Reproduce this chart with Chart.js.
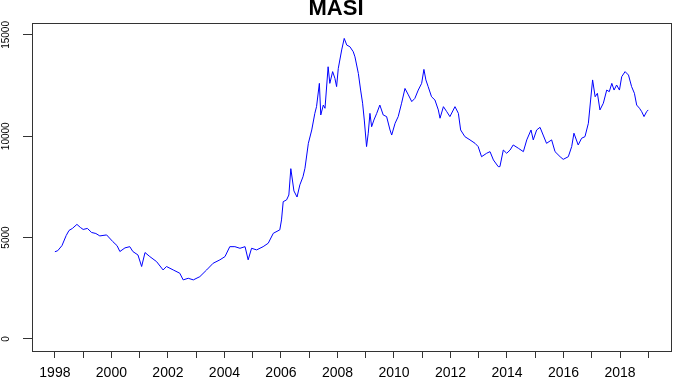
<!DOCTYPE html>
<html>
<head>
<meta charset="utf-8">
<script src="https://cdn.jsdelivr.net/npm/chart.js@4"></script>
<style>
  html, body { margin: 0; padding: 0; background: #fff; }
  #wrap { width: 673px; height: 378px; }
</style>
</head>
<body>
<div id="wrap"><canvas id="c" width="673" height="378"></canvas></div>
<script>
// decimal year of each reading and the MASI level
const years = [
  1998.00, 1998.10, 1998.25, 1998.40, 1998.50, 1998.62, 1998.78, 1998.90, 1999.00, 1999.15,
  1999.30, 1999.45, 1999.59, 1999.83, 2000.05, 2000.20, 2000.30, 2000.48, 2000.65, 2000.76,
  2000.94, 2001.07, 2001.19, 2001.36, 2001.60, 2001.83, 2001.95, 2002.19, 2002.42, 2002.54,
  2002.72, 2002.90, 2003.13, 2003.37, 2003.60, 2003.84, 2004.02, 2004.19, 2004.37, 2004.55,
  2004.73, 2004.84, 2004.96, 2005.14, 2005.37, 2005.55, 2005.73, 2005.96, 2006.02, 2006.08,
  2006.20, 2006.28, 2006.35, 2006.46, 2006.57, 2006.67, 2006.78, 2006.85, 2006.97, 2007.09,
  2007.20, 2007.26, 2007.36, 2007.41, 2007.50, 2007.56, 2007.67, 2007.73, 2007.83, 2007.91,
  2007.97, 2008.03, 2008.15, 2008.24, 2008.33, 2008.44, 2008.56, 2008.62, 2008.74, 2008.82,
  2008.89, 2008.95, 2009.03, 2009.09, 2009.15, 2009.21, 2009.29, 2009.39, 2009.50, 2009.62,
  2009.74, 2009.86, 2009.92, 2010.04, 2010.15, 2010.27, 2010.39, 2010.51, 2010.63, 2010.74,
  2010.86, 2010.98, 2011.06, 2011.13, 2011.21, 2011.33, 2011.45, 2011.57, 2011.63, 2011.75,
  2011.87, 2011.98, 2012.16, 2012.28, 2012.36, 2012.51, 2012.69, 2012.87, 2012.98, 2013.10,
  2013.28, 2013.40, 2013.52, 2013.69, 2013.75, 2013.87, 2013.99, 2014.11, 2014.22, 2014.40,
  2014.58, 2014.70, 2014.85, 2014.93, 2015.05, 2015.17, 2015.28, 2015.40, 2015.58, 2015.70,
  2015.88, 2015.99, 2016.17, 2016.29, 2016.37, 2016.52, 2016.64, 2016.76, 2016.88, 2016.96,
  2017.03, 2017.12, 2017.20, 2017.29, 2017.41, 2017.53, 2017.62, 2017.71, 2017.79, 2017.88,
  2017.98, 2018.06, 2018.18, 2018.30, 2018.41, 2018.51, 2018.59, 2018.69, 2018.77, 2018.85,
  2018.94, 2019.00
];
const masi = [
  4300, 4350, 4600, 5100, 5350, 5450, 5650, 5500, 5400, 5450,
  5250, 5200, 5080, 5130, 4800, 4600, 4310, 4490, 4550, 4310,
  4140, 3570, 4260, 4060, 3810, 3400, 3570, 3400, 3240, 2910,
  2990, 2910, 3070, 3400, 3730, 3900, 4060, 4550, 4550, 4470,
  4550, 3900, 4470, 4390, 4550, 4720, 5210, 5380, 5870, 6770,
  6860, 7100, 8400, 7300, 7000, 7600, 8000, 8420, 9650, 10310,
  11130, 11460, 12610, 11050, 11540, 11380, 13430, 12610, 13190, 12860,
  12450, 13350, 14260, 14830, 14500, 14420, 14170, 13920, 13100, 12280,
  11630, 10800, 9490, 10150, 11130, 10470, 10800, 11130, 11540, 11050,
  10970, 10310, 10060, 10640, 10970, 11630, 12360, 12040, 11710, 11870,
  12280, 12610, 13300, 12780, 12450, 11950, 11790, 11300, 10890, 11460,
  11210, 10970, 11460, 11130, 10310, 9980, 9820, 9650, 9490, 8990,
  9160, 9240, 8830, 8500, 8500, 9320, 9160, 9320, 9570, 9410,
  9240, 9820, 10310, 9820, 10310, 10440, 10060, 9650, 9820, 9240,
  8990, 8860, 8990, 9490, 10150, 9570, 9900, 9980, 10640, 11790,
  12780, 11950, 12120, 11300, 11630, 12280, 12200, 12610, 12280, 12530,
  12280, 12940, 13190, 13020, 12450, 12120, 11540, 11380, 11210, 10970,
  11210, 11300
];

const xTicks = [1998, 1999, 2000, 2001, 2002, 2003, 2004, 2005, 2006, 2007, 2008,
  2009, 2010, 2011, 2012, 2013, 2014, 2015, 2016, 2017, 2018, 2019];
const yTicks = [0, 5000, 10000, 15000];

const FONT = "'Liberation Sans', Arial, sans-serif";

// R style box round the plot region
const boxPlugin = {
  id: 'box',
  afterDraw(chart) {
    const a = chart.chartArea;
    const ctx = chart.ctx;
    ctx.save();
    ctx.strokeStyle = '#333';
    ctx.lineWidth = 1;
    ctx.strokeRect(Math.round(a.left) + 0.5, Math.round(a.top) + 0.5,
      Math.round(a.right - a.left) - 1, Math.round(a.bottom - a.top));
    ctx.restore();
  }
};

new Chart(document.getElementById('c'), {
  type: 'line',
  data: {
    datasets: [{
      data: years.map((y, i) => ({ x: y, y: masi[i] })),
      borderColor: '#0000FF',
      borderWidth: 1,
      pointRadius: 0,
      tension: 0,
      fill: false
    }]
  },
  plugins: [boxPlugin],
  options: {
    responsive: false,
    animation: false,
    events: [],
    layout: { padding: { left: 0, right: 1, top: 0, bottom: 0 } },
    scales: {
      x: {
        type: 'linear',
        min: 1997.19,
        max: 2019.84,
        afterBuildTicks: (s) => { s.ticks = xTicks.map(v => ({ value: v })); },
        afterFit: (s) => { s.height = 27; },
        grid: { drawOnChartArea: false, drawTicks: true, tickLength: 7, color: '#333' },
        border: { display: false },
        ticks: {
          autoSkip: false,
          maxRotation: 0,
          padding: 7,
          color: '#000',
          font: { family: FONT, size: 14 },
          callback: (v) => (v % 2 === 0 ? String(v) : '')
        }
      },
      y: {
        min: -600,
        max: 15590,
        afterBuildTicks: (s) => { s.ticks = yTicks.map(v => ({ value: v })); },
        afterFit: (s) => { s.width = 32; },
        grid: { drawOnChartArea: false, drawTicks: true, tickLength: 9, color: '#333' },
        border: { display: false },
        ticks: {
          minRotation: 90,
          maxRotation: 90,
          crossAlign: 'center',
          padding: 3,
          color: '#000',
          font: { family: FONT, size: 10 },
          callback: (v) => String(v)
        }
      }
    },
    plugins: {
      legend: { display: false },
      tooltip: { enabled: false },
      title: {
        display: true,
        text: 'MASI',
        color: '#000',
        font: { family: FONT, size: 22, weight: 'bold', lineHeight: 1 },
        padding: { top: -2, bottom: 3 }
      }
    }
  }
});
</script>
</body>
</html>
